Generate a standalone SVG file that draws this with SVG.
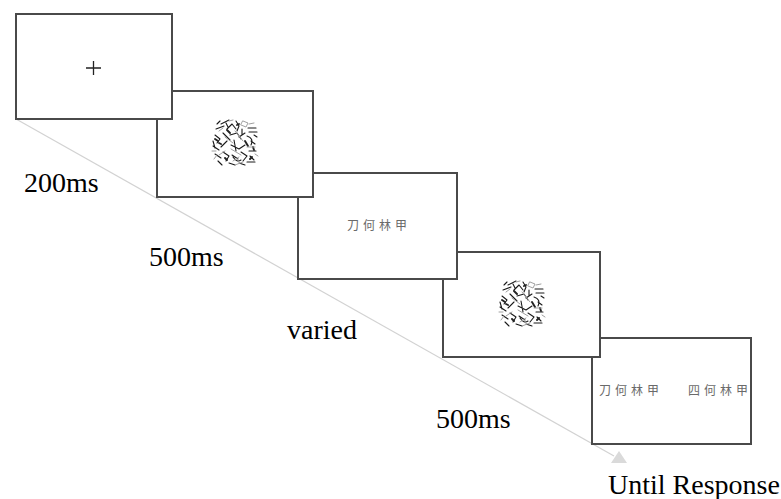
<svg xmlns="http://www.w3.org/2000/svg" width="781" height="499" viewBox="0 0 781 499">
<style>
.frame{fill:#fff;stroke:#4a4a4a;stroke-width:2}
.lbl{font-family:"Liberation Serif","Times New Roman",serif;font-size:28px;fill:#000}
.cjk{font-family:"Noto Sans CJK SC","Noto Sans",sans-serif;font-size:12px;fill:#6a6a6a;letter-spacing:4px}
.m{fill:none;stroke:#1a1a1a;stroke-width:1.1;stroke-linecap:round;stroke-linejoin:round}
.mg{fill:none;stroke:#a0a0a0;stroke-width:1;stroke-linecap:round}
.mt{fill:none;stroke:#222;stroke-width:1.9;stroke-linecap:round}
</style>
<defs>
<g id="noise">
<path class="m" d="M-14,-19 L-6,-23 M-19,-14 L-11,-17 M-8,-14 L-3,-19 L1,-14 M1,-22 L4,-17 L2,-12 M13,-15 L21,-15 M14,-11 L22,-11 M-20,-8 L-15,-4 L-18,0 M-12,-10 L-5,-3 M-5,-8 L2,-10 L6,-4 M4,-6 L10,-10 M12,-7 Q19,-5 16,2 M16,-2 L20,1 M-22,3 L-16,7 M-14,4 L-8,-2 M-4,2 L4,6 L10,2 M-1,-3 L1,8 M-20,11 L-14,15 M-12,9 L-6,13 L-9,18 M-3,12 L3,16 M6,9 L12,13 L8,18 M14,8 L21,8 M15,13 L19,17 M-17,18 L-13,22 M-6,20 L0,22 M4,20 L10,22 M12,19 L20,19 M-22,-2 L-20,5 M7,-14 L7,-8 M-9,-20 L-7,-16 M19,-8 L22,-6 M-2,14 Q2,20 6,17 M-18,-19 L-15,-22"/>
<path class="mt" d="M-8,-13 L-5,-10 M-20,-4 L-17,-2 M10,-2 L13,3 M15,16 L17,14 M-10,15 L-8,17 M2,-18 L4,-19 M18,4 L19,7 M-16,0 L-14,1"/>
<path class="mg" d="M8,-22 L13,-20 L11,-16 L6,-18 Z M-10,-6 L-2,0 M0,-12 L8,-2 M-16,12 L-10,8 M-4,6 L6,12 M12,4 L20,4 M-2,18 L4,14 M-21,16 L-18,12 M0,22 L8,19 M-12,-15 L-16,-12 M14,-19 L19,-20 M-23,8 L-19,8 M20,11 L23,13 M-6,-22 L-2,-23"/>
</g>
</defs>
<g id="connectors">
<line x1="16" y1="119" x2="614" y2="456" stroke="#d2d2d2" stroke-width="1.2"/>
<polygon points="619,451 611,463 627,463" fill="#dadada"/>
</g>
<g id="frame5">
<rect class="frame" x="592" y="338" width="159" height="106"/>
<text class="cjk" x="599" y="395">刀何林甲</text>
<text class="cjk" x="688" y="395">四何林甲</text>
</g>
<g id="frame4">
<rect class="frame" x="443" y="252" width="157" height="105"/>
<use href="#noise" x="522" y="304"/>
</g>
<g id="frame3">
<rect class="frame" x="298" y="173" width="159" height="106"/>
<text class="cjk" x="347" y="230">刀何林甲</text>
</g>
<g id="frame2">
<rect class="frame" x="157" y="91" width="156" height="106"/>
<use href="#noise" x="235" y="143"/>
</g>
<g id="frame1">
<rect class="frame" x="16" y="14" width="156" height="105"/>
<path d="M86,68 H101 M93.5,61 V75" stroke="#222" stroke-width="1.3" fill="none"/>
</g>
<g id="labels">
<text class="lbl" x="24" y="192">200ms</text>
<text class="lbl" x="149" y="266">500ms</text>
<text class="lbl" x="287" y="339">varied</text>
<text class="lbl" x="436" y="428">500ms</text>
<text class="lbl" x="608" y="494">Until Response</text>
</g>
</svg>
